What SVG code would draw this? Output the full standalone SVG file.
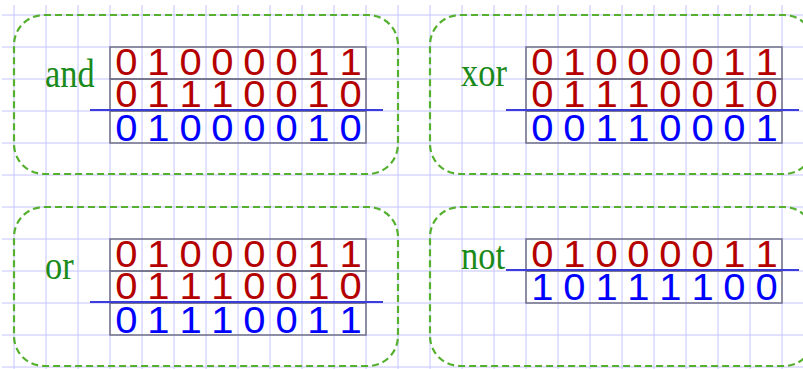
<svg xmlns="http://www.w3.org/2000/svg" width="803" height="369" viewBox="0 0 803 369">
<style>
.grid line{stroke:#c4c4ff;stroke-width:1}
.box{fill:none;stroke:#55b030;stroke-width:2.2;stroke-dasharray:7,4}
.lbl{font-family:"Liberation Serif","Times New Roman",serif;font-size:40px;fill:#1a8a1a}
.row{fill:none;stroke:#707088;stroke-width:1.5}
.red{font-family:"Liberation Sans",Arial,sans-serif;font-size:37px;fill:#b50000;text-anchor:middle}
.blue{font-family:"Liberation Sans",Arial,sans-serif;font-size:37px;fill:#0000ff;text-anchor:middle}
.bar{stroke:#3c3cd8;stroke-width:2}
</style>
<rect width="803" height="369" fill="#fff"/>
<g class="grid" id="grid">
<line x1="2" y1="15" x2="803" y2="15"/><line x1="2" y1="47" x2="803" y2="47"/><line x1="2" y1="79" x2="803" y2="79"/><line x1="2" y1="111" x2="803" y2="111"/><line x1="2" y1="143" x2="803" y2="143"/><line x1="2" y1="175" x2="803" y2="175"/><line x1="2" y1="207" x2="803" y2="207"/><line x1="2" y1="239" x2="803" y2="239"/><line x1="2" y1="271" x2="803" y2="271"/><line x1="2" y1="303" x2="803" y2="303"/><line x1="2" y1="335" x2="803" y2="335"/><line x1="2" y1="367" x2="803" y2="367"/>
<line x1="14" y1="5" x2="14" y2="369"/><line x1="46" y1="5" x2="46" y2="369"/><line x1="78" y1="5" x2="78" y2="369"/><line x1="110" y1="5" x2="110" y2="369"/><line x1="142" y1="5" x2="142" y2="369"/><line x1="174" y1="5" x2="174" y2="369"/><line x1="206" y1="5" x2="206" y2="369"/><line x1="238" y1="5" x2="238" y2="369"/><line x1="270" y1="5" x2="270" y2="369"/><line x1="302" y1="5" x2="302" y2="369"/><line x1="334" y1="5" x2="334" y2="369"/><line x1="366" y1="5" x2="366" y2="369"/><line x1="398" y1="5" x2="398" y2="369"/><line x1="430" y1="5" x2="430" y2="369"/><line x1="462" y1="5" x2="462" y2="369"/><line x1="494" y1="5" x2="494" y2="369"/><line x1="526" y1="5" x2="526" y2="369"/><line x1="558" y1="5" x2="558" y2="369"/><line x1="590" y1="5" x2="590" y2="369"/><line x1="622" y1="5" x2="622" y2="369"/><line x1="654" y1="5" x2="654" y2="369"/><line x1="686" y1="5" x2="686" y2="369"/><line x1="718" y1="5" x2="718" y2="369"/><line x1="750" y1="5" x2="750" y2="369"/><line x1="782" y1="5" x2="782" y2="369"/>
</g>
<g id="and">
<rect class="box" x="14" y="15" width="384" height="159" rx="30"/>
<text class="lbl" transform="translate(45,87) scale(0.86,1)">and</text>
<rect class="row" x="110" y="47" width="256" height="32"/>
<rect class="row" x="110" y="79" width="256" height="32"/>
<rect class="row" x="110" y="111" width="256" height="32"/>
<text class="red" transform="translate(110.5,75) scale(1.08,1)" x="14.81 44.44 74.07 103.70 133.33 162.96 192.59 222.22">01000011</text>
<text class="red" transform="translate(110.5,107) scale(1.08,1)" x="14.81 44.44 74.07 103.70 133.33 162.96 192.59 222.22">01110010</text>
<text class="blue" transform="translate(110.5,141) scale(1.08,1)" x="14.81 44.44 74.07 103.70 133.33 162.96 192.59 222.22">01000010</text>
<line class="bar" x1="90" y1="110" x2="383" y2="110"/>
</g>
<g id="xor">
<rect class="box" x="430" y="15" width="384" height="159" rx="30"/>
<text class="lbl" transform="translate(461,86) scale(0.86,1)">xor</text>
<rect class="row" x="526" y="47" width="256" height="32"/>
<rect class="row" x="526" y="79" width="256" height="32"/>
<rect class="row" x="526" y="111" width="256" height="32"/>
<text class="red" transform="translate(526.5,75) scale(1.08,1)" x="14.81 44.44 74.07 103.70 133.33 162.96 192.59 222.22">01000011</text>
<text class="red" transform="translate(526.5,107) scale(1.08,1)" x="14.81 44.44 74.07 103.70 133.33 162.96 192.59 222.22">01110010</text>
<text class="blue" transform="translate(526.5,141) scale(1.08,1)" x="14.81 44.44 74.07 103.70 133.33 162.96 192.59 222.22">00110001</text>
<line class="bar" x1="506" y1="110" x2="799" y2="110"/>
</g>
<g id="or">
<rect class="box" x="14" y="207" width="384" height="159" rx="30"/>
<text class="lbl" transform="translate(45,279) scale(0.86,1)">or</text>
<rect class="row" x="110" y="239" width="256" height="32"/>
<rect class="row" x="110" y="271" width="256" height="32"/>
<rect class="row" x="110" y="303" width="256" height="32"/>
<text class="red" transform="translate(110.5,267) scale(1.08,1)" x="14.81 44.44 74.07 103.70 133.33 162.96 192.59 222.22">01000011</text>
<text class="red" transform="translate(110.5,299) scale(1.08,1)" x="14.81 44.44 74.07 103.70 133.33 162.96 192.59 222.22">01110010</text>
<text class="blue" transform="translate(110.5,333) scale(1.08,1)" x="14.81 44.44 74.07 103.70 133.33 162.96 192.59 222.22">01110011</text>
<line class="bar" x1="90" y1="302" x2="383" y2="302"/>
</g>
<g id="not">
<rect class="box" x="430" y="207" width="384" height="159" rx="30"/>
<text class="lbl" transform="translate(461,269) scale(0.86,1)">not</text>
<rect class="row" x="526" y="239" width="256" height="32"/>
<rect class="row" x="526" y="271" width="256" height="32"/>
<text class="red" transform="translate(526.5,267) scale(1.08,1)" x="14.81 44.44 74.07 103.70 133.33 162.96 192.59 222.22">01000011</text>
<text class="blue" transform="translate(526.5,300) scale(1.08,1)" x="14.81 44.44 74.07 103.70 133.33 162.96 192.59 222.22">10111100</text>
<line class="bar" x1="506" y1="270" x2="799" y2="270"/>
</g>
</svg>
